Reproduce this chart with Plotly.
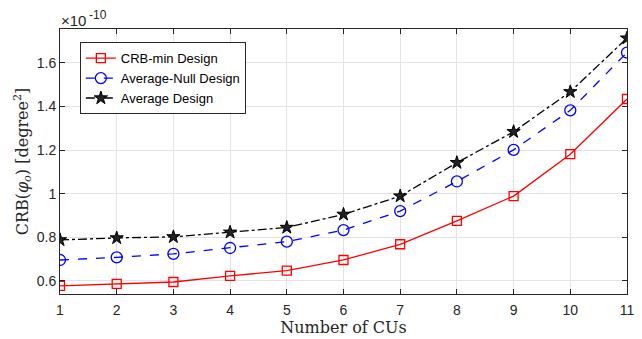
import plotly.graph_objects as go

cus = [1, 2, 3, 4, 5, 6, 7, 8, 9, 10, 11]
# CRB values in units of 1e-10 degree^2
crb_min = [0.577, 0.586, 0.595, 0.623, 0.647, 0.696, 0.768, 0.875, 0.989, 1.181, 1.434]
avg_null = [0.696, 0.708, 0.724, 0.751, 0.780, 0.833, 0.920, 1.056, 1.201, 1.382, 1.647]
avg = [0.788, 0.797, 0.802, 0.823, 0.845, 0.905, 0.989, 1.142, 1.284, 1.467, 1.713]
y_ticks = [0.6, 0.8, 1.0, 1.2, 1.4, 1.6]
y_ticklabels = ["0.6", "0.8", "1", "1.2", "1.4", "1.6"]
x_ticks = cus

fig = go.Figure()
fig.add_trace(go.Scatter(x=cus, y=crb_min, name="CRB-min Design", mode="lines+markers",
                         line=dict(color="#ff0000", width=1.3),
                         marker=dict(symbol="square-open", size=9, color="#ff0000", line=dict(width=1.3))))
fig.add_trace(go.Scatter(x=cus, y=avg_null, name="Average-Null Design", mode="lines+markers",
                         line=dict(color="#0000ff", width=1.3, dash="dash"),
                         marker=dict(symbol="circle-open", size=11, color="#0000ff", line=dict(width=1.3))))
fig.add_trace(go.Scatter(x=cus, y=avg, name="Average Design", mode="lines+markers",
                         line=dict(color="#000000", width=1.3, dash="dashdot"),
                         marker=dict(symbol="star", size=10, color="#222222", line=dict(width=1, color="#000000"))))

axis_common = dict(showline=True, linecolor="#262626", linewidth=1, mirror="ticks",
                   ticks="inside", ticklen=5, tickcolor="#262626",
                   showgrid=True, gridcolor="#e3e3e3", gridwidth=1, zeroline=False,
                   tickfont=dict(family="Liberation Sans, Arial", size=14, color="#262626"))

fig.update_xaxes(range=[1, 11], tickvals=x_ticks, ticklabelstandoff=3,
                 title=dict(text="Number of CUs", font=dict(family="DejaVu Serif", size=16, color="#262626"), standoff=2),
                 **axis_common)
fig.update_yaxes(range=[0.54, 1.755], tickvals=y_ticks, ticktext=y_ticklabels,
                 title=dict(text="CRB(<i>φ</i><sub><i>o</i></sub>) [degree<sup>2</sup>]",
                            font=dict(family="DejaVu Serif", size=16, color="#262626"), standoff=4),
                 **axis_common)

fig.add_annotation(x=0, y=1, xref="paper", yref="paper", xanchor="left", yanchor="bottom",
                   text="×10", showarrow=False, yshift=-2, xshift=-1,
                   font=dict(family="Liberation Sans, Arial", size=15, color="#262626"))
fig.add_annotation(x=0, y=1, xref="paper", yref="paper", xanchor="left", yanchor="bottom",
                   text="-10", showarrow=False, yshift=5, xshift=27,
                   font=dict(family="Liberation Sans, Arial", size=12, color="#262626"))

fig.update_layout(width=642, height=339, margin=dict(l=60, r=8, t=29, b=45),
                  plot_bgcolor="white", paper_bgcolor="white", showlegend=True,
                  legend=dict(x=0.035, y=0.95, xanchor="left", yanchor="top",
                              bgcolor="white", bordercolor="#262626", borderwidth=1,
                              font=dict(family="Liberation Sans, Arial", size=13, color="#000000"),
                              tracegroupgap=0, itemwidth=30))

fig.write_html("out.html")
